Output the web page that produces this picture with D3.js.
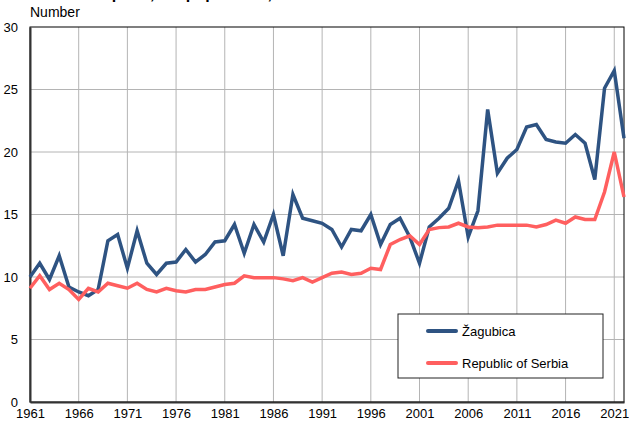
<!DOCTYPE html>
<html>
<head>
<meta charset="utf-8">
<script src="https://cdn.jsdelivr.net/npm/d3@7"></script>
<style>
  body { margin: 0; background: #fff; }
  text { font-family: "Liberation Sans", Arial, sans-serif; fill: #000; }
</style>
</head>
<body>
<script>
var width = 629;
var height = 426;

var years = d3.range(1961, 2023);
var zagubica = [
  10.0, 11.1, 9.8, 11.7, 9.2, 8.8, 8.5, 9.0, 12.9, 13.4,
  10.7, 13.7, 11.1, 10.2, 11.1, 11.2, 12.2, 11.2, 11.8, 12.8,
  12.9, 14.2, 11.9, 14.2, 12.8, 15.0, 11.7, 16.6, 14.7, 14.5,
  14.3, 13.8, 12.4, 13.8, 13.7, 15.0, 12.6, 14.2, 14.7, 13.2,
  11.1, 14.0, 14.7, 15.5, 17.7, 13.2, 15.3, 23.4, 18.3, 19.5,
  20.2, 22.0, 22.2, 21.0, 20.8, 20.7, 21.4, 20.7, 17.8, 25.1,
  26.5, 21.1
];
var serbia = [
  9.1, 10.1, 9.0, 9.5, 9.0, 8.2, 9.1, 8.8, 9.5, 9.3,
  9.1, 9.5, 9.0, 8.8, 9.1, 8.9, 8.8, 9.0, 9.0, 9.2,
  9.4, 9.5, 10.1, 9.95, 9.95, 9.95, 9.85, 9.7, 9.95, 9.6,
  9.95, 10.3, 10.4, 10.2, 10.3, 10.7, 10.6, 12.6, 13.0, 13.3,
  12.6, 13.8, 13.95, 14.0, 14.3, 14.0, 13.95, 14.0, 14.15, 14.15,
  14.15, 14.15, 14.0, 14.2, 14.55, 14.3, 14.8, 14.6, 14.6, 16.8,
  20.0, 16.4
];
var yTicks = [0, 5, 10, 15, 20, 25, 30];
var xTicks = d3.range(1961, 2022, 5);
var seriesNames = ["Žagubica", "Republic of Serbia"];
var colors = ["#2e5382", "#ff5f5f"];

var svg = d3.select("body")
            .append("svg")
            .attr("width", width)
            .attr("height", height);

var x = d3.scaleLinear().domain([1961, 2022]).range([30, 624]);
var y = d3.scaleLinear().domain([0, 30]).range([402, 27]);

// title, mostly cut off by the top edge (as in the original)
svg.append("text")
   .attr("x", 54)
   .attr("y", -1)
   .style("font-size", "16px")
   .style("font-weight", "bold")
   .text("Deaths per 1,000 population, 1961–2022");

svg.append("text")
   .attr("x", 30)
   .attr("y", 17)
   .style("font-size", "14px")
   .text("Number");

// grid
svg.append("g")
   .selectAll("line")
   .data(yTicks.slice(1, -1))
   .enter()
   .append("line")
   .attr("x1", x(1961))
   .attr("x2", x(2022))
   .attr("y1", function(d) { return y(d); })
   .attr("y2", function(d) { return y(d); })
   .attr("stroke", "#b4b4b4")
   .attr("stroke-width", 1);

svg.append("g")
   .selectAll("line")
   .data(xTicks.slice(1))
   .enter()
   .append("line")
   .attr("x1", function(d) { return x(d); })
   .attr("x2", function(d) { return x(d); })
   .attr("y1", y(30))
   .attr("y2", y(0))
   .attr("stroke", "#b4b4b4")
   .attr("stroke-width", 1);

// frame
svg.append("rect")
   .attr("x", x(1961))
   .attr("y", y(30))
   .attr("width", x(2022) - x(1961))
   .attr("height", y(0) - y(30))
   .attr("fill", "none")
   .attr("stroke", "#000")
   .attr("stroke-width", 1);

var yAxis = svg.append("g")
   .attr("transform", "translate(" + x(1961) + ",0)")
   .call(d3.axisLeft(y).tickValues(yTicks).tickSize(0).tickPadding(12));
yAxis.select(".domain").attr("stroke", "#333").attr("stroke-width", 2);
yAxis.selectAll("text").style("font-size", "13px").attr("fill", "#000");

var xAxis = svg.append("g")
   .attr("transform", "translate(0," + y(0) + ")")
   .call(d3.axisBottom(x).tickValues(xTicks).tickFormat(d3.format("d")).tickSize(0).tickPadding(7));
xAxis.select(".domain").attr("stroke", "#333").attr("stroke-width", 2);
xAxis.selectAll("text").style("font-size", "13px").attr("fill", "#000");

var line = d3.line()
   .x(function(d, i) { return x(years[i]); })
   .y(function(d) { return y(d); });

[zagubica, serbia].forEach(function(series, k) {
  svg.append("path")
     .datum(series)
     .attr("d", line)
     .attr("fill", "none")
     .attr("stroke", colors[k])
     .attr("stroke-width", 3.5)
     .attr("stroke-linejoin", "miter");
});

// legend
var legend = svg.append("g");
legend.append("rect")
   .attr("x", 398)
   .attr("y", 314)
   .attr("width", 205)
   .attr("height", 64)
   .attr("fill", "#fff")
   .attr("stroke", "#222")
   .attr("stroke-width", 1);

seriesNames.forEach(function(name, k) {
  var ly = 331 + k * 32;
  legend.append("line")
     .attr("x1", 428)
     .attr("x2", 456)
     .attr("y1", ly)
     .attr("y2", ly)
     .attr("stroke", colors[k])
     .attr("stroke-width", 4)
     .attr("stroke-linecap", "round");
  legend.append("text")
     .attr("x", 462)
     .attr("y", ly + 4.5)
     .style("font-size", "13px")
     .text(name);
});
</script>
</body>
</html>
